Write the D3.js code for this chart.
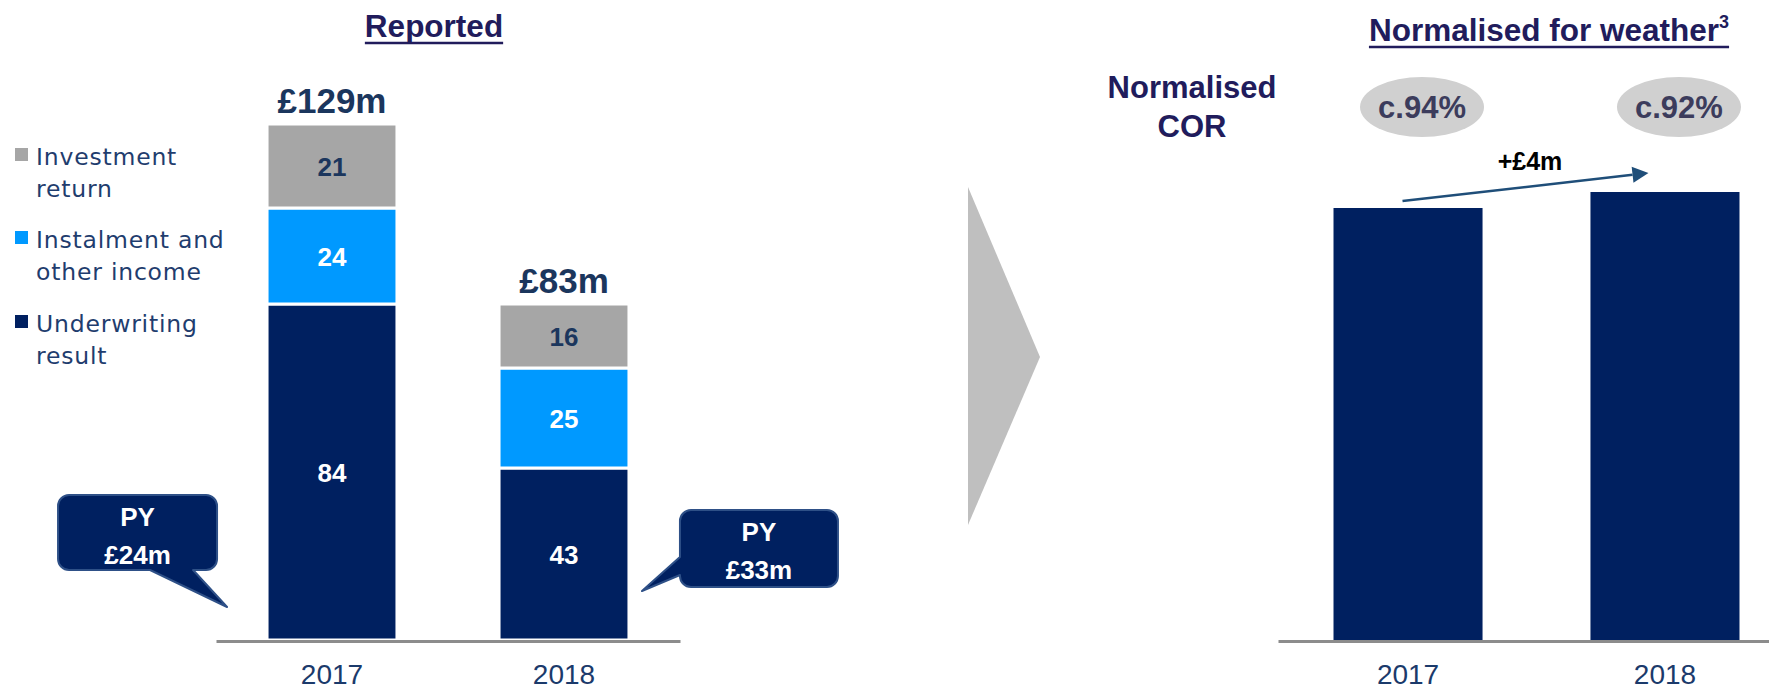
<!DOCTYPE html>
<html>
<head>
<meta charset="utf-8">
<script src="https://cdn.jsdelivr.net/npm/d3@7"></script>
<style>
  html, body { margin: 0; padding: 0; background: #fff; }
  svg { display: block; }
</style>
</head>
<body>
<svg id="chart" width="1769" height="692"></svg>
<script>
// ---------------- DATA ----------------
const categories = ["2017", "2018"];
const underwriting = [84, 43];
const instalment = [24, 25];
const investment = [21, 16];
const totalLabels = ["£129m", "£83m"];
const pyLabels = ["£24m", "£33m"];
const normalised = [108, 112];
const corLabels = ["c.94%", "c.92%"];
const changeLabel = "+£4m";
const legendItems = [
  { key: "investment", lines: ["Investment", "return"] },
  { key: "instalment", lines: ["Instalment and", "other income"] },
  { key: "underwriting", lines: ["Underwriting", "result"] }
];

// ---------------- STYLE ----------------
const colors = { underwriting: "#002060", instalment: "#0099FF", investment: "#A6A6A6" };
const labelColors = { underwriting: "#ffffff", instalment: "#ffffff", investment: "#1B365D" };
const titleColor = "#211C5C";
const navyText = "#1B365D";
const bold = "'Liberation Sans', Arial, sans-serif";

const svg = d3.select("#chart");

const y = d3.scaleLinear().domain([0, 129]).range([640, 124]);

// ---------------- LEFT PANEL ----------------
const xL = d3.scaleBand().domain(categories).range([216, 680]).paddingInner(0.44).paddingOuter(0.22);

const rows = categories.map((c, i) => ({ cat: c, underwriting: underwriting[i], instalment: instalment[i], investment: investment[i] }));
const keys = ["underwriting", "instalment", "investment"];
const stacked = d3.stack().keys(keys)(rows);

const gBars = svg.append("g");
stacked.forEach(layer => {
  gBars.selectAll(null).data(layer).enter().append("rect")
    .attr("x", d => xL(d.data.cat))
    .attr("width", xL.bandwidth())
    .attr("y", d => y(d[1]))
    .attr("height", d => y(d[0]) - y(d[1]))
    .attr("fill", colors[layer.key])
    .attr("stroke", "#fff")
    .attr("stroke-width", 3);
  gBars.selectAll(null).data(layer).enter().append("text")
    .attr("x", d => xL(d.data.cat) + xL.bandwidth() / 2)
    .attr("y", d => (y(d[0]) + y(d[1])) / 2 + 10)
    .attr("text-anchor", "middle")
    .attr("font-family", bold)
    .attr("font-weight", "bold")
    .attr("font-size", 26)
    .attr("fill", labelColors[layer.key])
    .text(d => d.data[layer.key]);
});

// totals
const topLayer = stacked[stacked.length - 1];
svg.selectAll(null).data(topLayer).enter().append("text")
  .attr("x", d => xL(d.data.cat) + xL.bandwidth() / 2)
  .attr("y", d => y(d[1]) - 11)
  .attr("text-anchor", "middle")
  .attr("font-family", bold)
  .attr("font-weight", "bold")
  .attr("font-size", 35)
  .attr("fill", navyText)
  .text((d, i) => totalLabels[i]);

// axis
function styleAxis(g) {
  g.select(".domain").attr("stroke", "#8C8C8C").attr("stroke-width", 3);
  g.selectAll(".tick line").remove();
  g.selectAll(".tick text")
    .attr("font-family", "'Liberation Sans', Arial, sans-serif")
    .attr("font-size", 28)
    .attr("fill", "#1B3A6B");
}
svg.append("g").attr("transform", "translate(0,641)")
  .call(d3.axisBottom(xL).tickSize(0).tickPadding(23).tickSizeOuter(0))
  .call(styleAxis);

// legend
const legend = svg.append("g");
legendItems.forEach((item, i) => {
  const baseY = [165, 248, 332][i];
  legend.append("rect").attr("x", 15).attr("y", baseY - 17).attr("width", 13).attr("height", 13)
    .attr("fill", colors[item.key]);
  item.lines.forEach((ln, j) => {
    legend.append("text").attr("x", 36).attr("y", baseY + j * 32)
      .attr("font-family", "'DejaVu Sans', sans-serif")
      .attr("font-size", 23.5)
      .attr("letter-spacing", 0.8)
      .attr("fill", "#1F3D6E")
      .text(ln);
  });
});

// callouts
function callout(path, cx, yTop, lines) {
  svg.append("path").attr("d", path).attr("fill", "#002060")
    .attr("stroke", "#2E5087").attr("stroke-width", 2).attr("stroke-linejoin", "round");
  lines.forEach((ln, j) => {
    svg.append("text").attr("x", cx).attr("y", yTop + j * 38)
      .attr("text-anchor", "middle").attr("font-family", bold).attr("font-weight", "bold")
      .attr("font-size", 26).attr("fill", "#fff").text(ln);
  });
}
function roundedWithTail(x0, y0, x1, y1, r, tail) {
  const p = d3.path();
  p.moveTo(x0 + r, y0);
  p.lineTo(x1 - r, y0); p.arcTo(x1, y0, x1, y0 + r, r);
  p.lineTo(x1, y1 - r); p.arcTo(x1, y1, x1 - r, y1, r);
  if (tail.side === "bottom") { p.lineTo(tail.b, y1); p.lineTo(tail.tx, tail.ty); p.lineTo(tail.a, y1); }
  p.lineTo(x0 + r, y1); p.arcTo(x0, y1, x0, y1 - r, r);
  if (tail.side === "left") { p.lineTo(x0, tail.b); p.lineTo(tail.tx, tail.ty); p.lineTo(x0, tail.a); }
  p.lineTo(x0, y0 + r); p.arcTo(x0, y0, x0 + r, y0, r);
  p.closePath();
  return p.toString();
}
{
  const b0 = xL(categories[0]);
  const x0 = b0 - 209, x1 = b0 - 50;
  callout(roundedWithTail(x0, 495, x1, 570, 11, { side: "bottom", a: b0 - 117, b: b0 - 74, tx: b0 - 40, ty: 607 }),
    (x0 + x1) / 2, 526, ["PY", pyLabels[0]]);
  const b1 = xL(categories[1]) + xL.bandwidth();
  const x2 = b1 + 51, x3 = b1 + 209;
  callout(roundedWithTail(x2, 510, x3, 587, 11, { side: "left", a: 557, b: 575, tx: b1 + 13, ty: 591 }),
    (x2 + x3) / 2, 541, ["PY", pyLabels[1]]);
}

// titles
function title(text, cx, by, sup) {
  const t = svg.append("text").attr("x", cx).attr("y", by).attr("text-anchor", "middle")
    .attr("font-family", bold).attr("font-weight", "bold").attr("font-size", 31.5)
    .attr("fill", titleColor).text(text);
  if (sup) t.append("tspan").attr("font-size", 18).attr("dy", -13).text(sup);
  const bb = t.node().getBBox();
  svg.append("line").attr("x1", bb.x).attr("x2", bb.x + bb.width)
    .attr("y1", by + 6).attr("y2", by + 6).attr("stroke", titleColor).attr("stroke-width", 2.5);
}
title("Reported", 434, 37);
title("Normalised for weather", 1549, 41, "3");

// divider arrow
svg.append("path").attr("d", "M968,187L1040,357L968,525Z").attr("fill", "#BFBFBF");

// ---------------- RIGHT PANEL ----------------
const xR = d3.scaleBand().domain(categories).range([1278, 1795]).paddingInner(0.42).paddingOuter(0.216);

svg.append("g").selectAll("rect").data(normalised).enter().append("rect")
  .attr("x", (d, i) => xR(categories[i]))
  .attr("width", xR.bandwidth())
  .attr("y", d => y(d))
  .attr("height", d => y(0) - y(d))
  .attr("fill", colors.underwriting);

svg.append("g").attr("transform", "translate(0,641)")
  .call(d3.axisBottom(xR).tickSize(0).tickPadding(23).tickSizeOuter(0))
  .call(styleAxis);

// Normalised COR label
["Normalised", "COR"].forEach((ln, j) => {
  svg.append("text").attr("x", 1192).attr("y", 98 + j * 39).attr("text-anchor", "middle")
    .attr("font-family", bold).attr("font-weight", "bold").attr("font-size", 31)
    .attr("fill", titleColor).text(ln);
});

// ellipses
corLabels.forEach((lab, i) => {
  const cx = xR(categories[i]) + xR.bandwidth() / 2 + 14;
  svg.append("ellipse").attr("cx", cx).attr("cy", 107).attr("rx", 62).attr("ry", 30).attr("fill", "#D0D0D0");
  svg.append("text").attr("x", cx).attr("y", 118).attr("text-anchor", "middle")
    .attr("font-family", bold).attr("font-weight", "bold").attr("font-size", 31)
    .attr("fill", "#3C3C5C").text(lab);
});

// change arrow
{
  const sx = xR(categories[0]) + 69, sy = y(normalised[0]) - 7;
  const tx = xR(categories[1]) + 58, ty = y(normalised[1]) - 19;
  const ang = Math.atan2(ty - sy, tx - sx);
  const L = 16, W = 8;
  const bx = tx - L * Math.cos(ang), byy = ty - L * Math.sin(ang);
  svg.append("line").attr("x1", sx).attr("y1", sy).attr("x2", bx).attr("y2", byy)
    .attr("stroke", "#1F4E79").attr("stroke-width", 2.5);
  svg.append("path").attr("d", `M${tx},${ty}L${bx + W * Math.sin(ang)},${byy - W * Math.cos(ang)}L${bx - W * Math.sin(ang)},${byy + W * Math.cos(ang)}Z`)
    .attr("fill", "#1F4E79");
  svg.append("text").attr("x", 1530).attr("y", 170).attr("text-anchor", "middle")
    .attr("font-family", bold).attr("font-weight", "bold").attr("font-size", 25)
    .attr("fill", "#000").text(changeLabel);
}
</script>
</body>
</html>
